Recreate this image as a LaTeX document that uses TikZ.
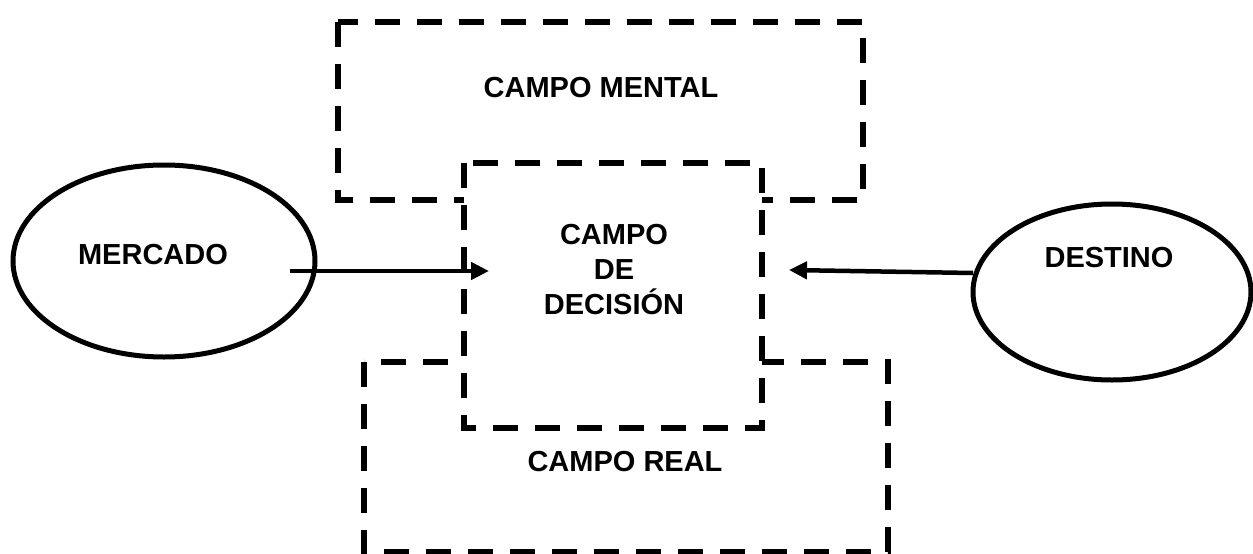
\documentclass[tikz,border=0pt]{standalone}
\usepackage{fontspec}
\setmainfont{Liberation Sans}
\usetikzlibrary{shapes.geometric,arrows.meta}
\begin{document}
\begin{tikzpicture}[x=1pt,y=-1pt,
  fieldbox/.style={line width=6pt,dash pattern=on 25pt off 17pt},
  oval/.style={ellipse,draw,line width=5pt,inner sep=0pt},
  lbl/.style={font=\fontsize{29}{35}\selectfont\bfseries,align=center,inner sep=0pt},
  flow/.style={line width=4.5pt,-{Triangle[length=18pt,width=17pt]}}]
\useasboundingbox (0,0) rectangle (1253,554);
% mental and real fields
\draw[fieldbox] (338,22) rectangle (863,200);
\draw[fieldbox] (364,362) rectangle (888,552);
% decision field on top, hiding the overlapped edges
\draw[fieldbox,fill=white] (464,163) rectangle (762,428);
\node[lbl] (mental) at (601,88) {CAMPO MENTAL};
\node[lbl] (decision) at (614,270) {CAMPO\\DE\\DECISIÓN};
\node[lbl] (real) at (625,462) {CAMPO REAL};
% outer influences
\node[oval,minimum width=302pt,minimum height=192pt] (mercado) at (164,261) {};
\node[lbl] (mercadotxt) at (153,255) {MERCADO};
\node[oval,minimum width=278pt,minimum height=176pt] (destino) at (1112,292) {};
\node[lbl] (destinotxt) at (1109,258) {DESTINO};
\coordinate (mout) at (290,271);
\coordinate (din) at (489,271);
\coordinate (dout) at (973,273);
\coordinate (din2) at (789,270);
\draw[flow] (mout) -- (din);
\draw[flow] (dout) -- (din2);
\end{tikzpicture}
\end{document}
